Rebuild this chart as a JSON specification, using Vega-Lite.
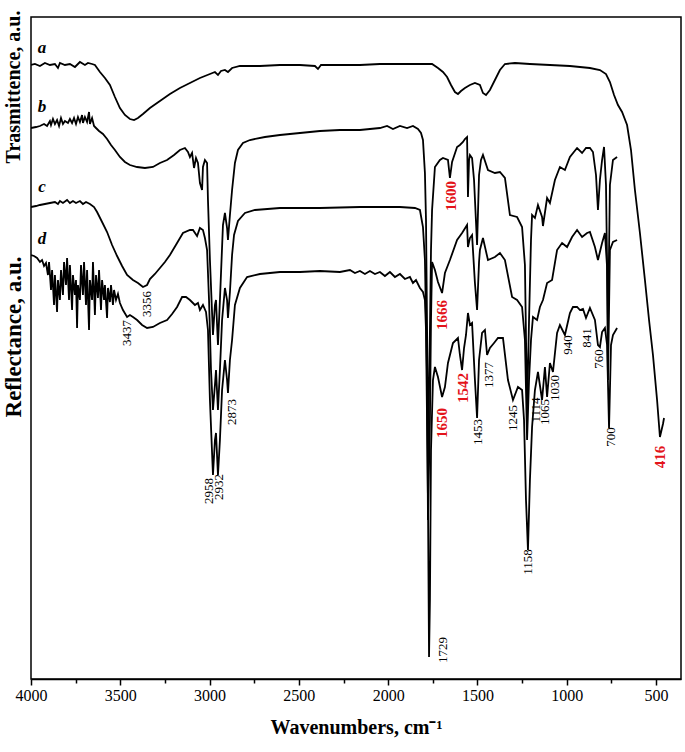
{
"$schema":"https://vega.github.io/schema/vega-lite/v6.json",
"width":650,"height":662,"autosize":"none",
"padding":{"left":31,"top":17,"right":4,"bottom":73},
"background":"white",
"config":{"view":{"stroke":"black","strokeWidth":1.5},"font":"Liberation Serif"},
"datasets":{
"spectra":[
{"curve":"a","wavenumber":4000,"intensity":614},{"curve":"a","wavenumber":3978,"intensity":615},{"curve":"a","wavenumber":3950,"intensity":613},{"curve":"a","wavenumber":3922,"intensity":616},{"curve":"a","wavenumber":3894,"intensity":614},{"curve":"a","wavenumber":3866,"intensity":615},{"curve":"a","wavenumber":3849,"intensity":611},{"curve":"a","wavenumber":3838,"intensity":616},{"curve":"a","wavenumber":3810,"intensity":614},{"curve":"a","wavenumber":3782,"intensity":615},{"curve":"a","wavenumber":3754,"intensity":612},{"curve":"a","wavenumber":3726,"intensity":617},{"curve":"a","wavenumber":3698,"intensity":614},{"curve":"a","wavenumber":3681,"intensity":616},{"curve":"a","wavenumber":3658,"intensity":615},{"curve":"a","wavenumber":3642,"intensity":614},{"curve":"a","wavenumber":3614,"intensity":607},{"curve":"a","wavenumber":3586,"intensity":601},{"curve":"a","wavenumber":3558,"intensity":594},{"curve":"a","wavenumber":3530,"intensity":582},{"curve":"a","wavenumber":3502,"intensity":571},{"curve":"a","wavenumber":3474,"intensity":564},{"curve":"a","wavenumber":3446,"intensity":560},{"curve":"a","wavenumber":3423,"intensity":559},{"curve":"a","wavenumber":3401,"intensity":561},{"curve":"a","wavenumber":3373,"intensity":565},{"curve":"a","wavenumber":3334,"intensity":571},{"curve":"a","wavenumber":3278,"intensity":578},{"curve":"a","wavenumber":3222,"intensity":585},{"curve":"a","wavenumber":3166,"intensity":591},{"curve":"a","wavenumber":3110,"intensity":596},{"curve":"a","wavenumber":3054,"intensity":601},{"curve":"a","wavenumber":2998,"intensity":605},{"curve":"a","wavenumber":2970,"intensity":607},{"curve":"a","wavenumber":2953,"intensity":604},{"curve":"a","wavenumber":2936,"intensity":608},{"curve":"a","wavenumber":2914,"intensity":609},{"curve":"a","wavenumber":2897,"intensity":607},{"curve":"a","wavenumber":2874,"intensity":611},{"curve":"a","wavenumber":2830,"intensity":613},{"curve":"a","wavenumber":2718,"intensity":613},{"curve":"a","wavenumber":2606,"intensity":614},{"curve":"a","wavenumber":2494,"intensity":614},{"curve":"a","wavenumber":2410,"intensity":613},{"curve":"a","wavenumber":2393,"intensity":610},{"curve":"a","wavenumber":2376,"intensity":614},{"curve":"a","wavenumber":2270,"intensity":614},{"curve":"a","wavenumber":2158,"intensity":614},{"curve":"a","wavenumber":2046,"intensity":615},{"curve":"a","wavenumber":1934,"intensity":615},{"curve":"a","wavenumber":1822,"intensity":615},{"curve":"a","wavenumber":1754,"intensity":615},{"curve":"a","wavenumber":1721,"intensity":611},{"curve":"a","wavenumber":1693,"intensity":607},{"curve":"a","wavenumber":1670,"intensity":602},{"curve":"a","wavenumber":1648,"intensity":594},{"curve":"a","wavenumber":1626,"intensity":587},{"curve":"a","wavenumber":1609,"intensity":585},{"curve":"a","wavenumber":1592,"intensity":588},{"curve":"a","wavenumber":1570,"intensity":591},{"curve":"a","wavenumber":1542,"intensity":594},{"curve":"a","wavenumber":1514,"intensity":596},{"curve":"a","wavenumber":1486,"intensity":594},{"curve":"a","wavenumber":1469,"intensity":586},{"curve":"a","wavenumber":1452,"intensity":584},{"curve":"a","wavenumber":1430,"intensity":589},{"curve":"a","wavenumber":1402,"intensity":599},{"curve":"a","wavenumber":1374,"intensity":609},{"curve":"a","wavenumber":1346,"intensity":615},{"curve":"a","wavenumber":1290,"intensity":616},{"curve":"a","wavenumber":1206,"intensity":615},{"curve":"a","wavenumber":1094,"intensity":614},{"curve":"a","wavenumber":982,"intensity":613},{"curve":"a","wavenumber":870,"intensity":611},{"curve":"a","wavenumber":814,"intensity":609},{"curve":"a","wavenumber":780,"intensity":605},{"curve":"a","wavenumber":758,"intensity":597},{"curve":"a","wavenumber":735,"intensity":584},{"curve":"a","wavenumber":713,"intensity":574},{"curve":"a","wavenumber":690,"intensity":567},{"curve":"a","wavenumber":662,"intensity":554},{"curve":"a","wavenumber":640,"intensity":529},{"curve":"a","wavenumber":618,"intensity":489},{"curve":"a","wavenumber":590,"intensity":446},{"curve":"a","wavenumber":562,"intensity":399},{"curve":"a","wavenumber":539,"intensity":359},{"curve":"a","wavenumber":517,"intensity":324},{"curve":"a","wavenumber":494,"intensity":279},{"curve":"a","wavenumber":478,"intensity":242},{"curve":"a","wavenumber":461,"intensity":255},{"curve":"a","wavenumber":455,"intensity":261},

{"curve":"b","wavenumber":4000,"intensity":551},{"curve":"b","wavenumber":3972,"intensity":552},{"curve":"b","wavenumber":3950,"intensity":553},{"curve":"b","wavenumber":3927,"intensity":555},{"curve":"b","wavenumber":3910,"intensity":553},{"curve":"b","wavenumber":3894,"intensity":558},{"curve":"b","wavenumber":3888,"intensity":554},{"curve":"b","wavenumber":3877,"intensity":560},{"curve":"b","wavenumber":3866,"intensity":555},{"curve":"b","wavenumber":3854,"intensity":559},{"curve":"b","wavenumber":3843,"intensity":553},{"curve":"b","wavenumber":3832,"intensity":561},{"curve":"b","wavenumber":3821,"intensity":555},{"curve":"b","wavenumber":3810,"intensity":558},{"curve":"b","wavenumber":3793,"intensity":556},{"curve":"b","wavenumber":3782,"intensity":560},{"curve":"b","wavenumber":3770,"intensity":556},{"curve":"b","wavenumber":3759,"intensity":561},{"curve":"b","wavenumber":3748,"intensity":555},{"curve":"b","wavenumber":3737,"intensity":562},{"curve":"b","wavenumber":3726,"intensity":557},{"curve":"b","wavenumber":3714,"intensity":564},{"curve":"b","wavenumber":3709,"intensity":556},{"curve":"b","wavenumber":3698,"intensity":562},{"curve":"b","wavenumber":3686,"intensity":557},{"curve":"b","wavenumber":3675,"intensity":567},{"curve":"b","wavenumber":3670,"intensity":555},{"curve":"b","wavenumber":3658,"intensity":561},{"curve":"b","wavenumber":3647,"intensity":553},{"curve":"b","wavenumber":3636,"intensity":551},{"curve":"b","wavenumber":3619,"intensity":548},{"curve":"b","wavenumber":3597,"intensity":545},{"curve":"b","wavenumber":3574,"intensity":540},{"curve":"b","wavenumber":3552,"intensity":534},{"curve":"b","wavenumber":3530,"intensity":529},{"curve":"b","wavenumber":3502,"intensity":522},{"curve":"b","wavenumber":3474,"intensity":517},{"curve":"b","wavenumber":3446,"intensity":514},{"curve":"b","wavenumber":3406,"intensity":512},{"curve":"b","wavenumber":3362,"intensity":511},{"curve":"b","wavenumber":3317,"intensity":512},{"curve":"b","wavenumber":3278,"intensity":516},{"curve":"b","wavenumber":3238,"intensity":519},{"curve":"b","wavenumber":3199,"intensity":524},{"curve":"b","wavenumber":3166,"intensity":529},{"curve":"b","wavenumber":3138,"intensity":531},{"curve":"b","wavenumber":3121,"intensity":527},{"curve":"b","wavenumber":3110,"intensity":522},{"curve":"b","wavenumber":3098,"intensity":526},{"curve":"b","wavenumber":3087,"intensity":511},{"curve":"b","wavenumber":3076,"intensity":521},{"curve":"b","wavenumber":3065,"intensity":516},{"curve":"b","wavenumber":3054,"intensity":496},{"curve":"b","wavenumber":3042,"intensity":489},{"curve":"b","wavenumber":3037,"intensity":512},{"curve":"b","wavenumber":3026,"intensity":519},{"curve":"b","wavenumber":3014,"intensity":516},{"curve":"b","wavenumber":3009,"intensity":479},{"curve":"b","wavenumber":2998,"intensity":419},{"curve":"b","wavenumber":2981,"intensity":344},{"curve":"b","wavenumber":2970,"intensity":374},{"curve":"b","wavenumber":2964,"intensity":379},{"curve":"b","wavenumber":2953,"intensity":334},{"curve":"b","wavenumber":2942,"intensity":379},{"curve":"b","wavenumber":2925,"intensity":454},{"curve":"b","wavenumber":2914,"intensity":466},{"curve":"b","wavenumber":2902,"intensity":451},{"curve":"b","wavenumber":2897,"intensity":439},{"curve":"b","wavenumber":2886,"intensity":464},{"curve":"b","wavenumber":2874,"intensity":489},{"curve":"b","wavenumber":2858,"intensity":516},{"curve":"b","wavenumber":2841,"intensity":529},{"curve":"b","wavenumber":2813,"intensity":536},{"curve":"b","wavenumber":2774,"intensity":539},{"curve":"b","wavenumber":2690,"intensity":542},{"curve":"b","wavenumber":2606,"intensity":544},{"curve":"b","wavenumber":2494,"intensity":546},{"curve":"b","wavenumber":2382,"intensity":548},{"curve":"b","wavenumber":2270,"intensity":549},{"curve":"b","wavenumber":2158,"intensity":549},{"curve":"b","wavenumber":2046,"intensity":551},{"curve":"b","wavenumber":2006,"intensity":553},{"curve":"b","wavenumber":1973,"intensity":550},{"curve":"b","wavenumber":1934,"intensity":553},{"curve":"b","wavenumber":1894,"intensity":551},{"curve":"b","wavenumber":1861,"intensity":553},{"curve":"b","wavenumber":1833,"intensity":550},{"curve":"b","wavenumber":1816,"intensity":546},{"curve":"b","wavenumber":1805,"intensity":539},{"curve":"b","wavenumber":1794,"intensity":506},{"curve":"b","wavenumber":1788,"intensity":459},{"curve":"b","wavenumber":1782,"intensity":349},{"curve":"b","wavenumber":1777,"intensity":219},{"curve":"b","wavenumber":1766,"intensity":349},{"curve":"b","wavenumber":1760,"intensity":429},{"curve":"b","wavenumber":1754,"intensity":469},{"curve":"b","wavenumber":1738,"intensity":512},{"curve":"b","wavenumber":1710,"intensity":519},{"curve":"b","wavenumber":1693,"intensity":521},{"curve":"b","wavenumber":1665,"intensity":519},{"curve":"b","wavenumber":1654,"intensity":501},{"curve":"b","wavenumber":1642,"intensity":517},{"curve":"b","wavenumber":1614,"intensity":532},{"curve":"b","wavenumber":1598,"intensity":534},{"curve":"b","wavenumber":1581,"intensity":537},{"curve":"b","wavenumber":1570,"intensity":540},{"curve":"b","wavenumber":1558,"intensity":542},{"curve":"b","wavenumber":1553,"intensity":482},{"curve":"b","wavenumber":1547,"intensity":519},{"curve":"b","wavenumber":1542,"intensity":524},{"curve":"b","wavenumber":1530,"intensity":521},{"curve":"b","wavenumber":1519,"intensity":499},{"curve":"b","wavenumber":1502,"intensity":434},{"curve":"b","wavenumber":1491,"intensity":504},{"curve":"b","wavenumber":1480,"intensity":519},{"curve":"b","wavenumber":1469,"intensity":524},{"curve":"b","wavenumber":1441,"intensity":509},{"curve":"b","wavenumber":1402,"intensity":506},{"curve":"b","wavenumber":1374,"intensity":507},{"curve":"b","wavenumber":1346,"intensity":501},{"curve":"b","wavenumber":1318,"intensity":464},{"curve":"b","wavenumber":1278,"intensity":462},{"curve":"b","wavenumber":1250,"intensity":452},{"curve":"b","wavenumber":1234,"intensity":414},{"curve":"b","wavenumber":1222,"intensity":269},{"curve":"b","wavenumber":1211,"intensity":359},{"curve":"b","wavenumber":1200,"intensity":439},{"curve":"b","wavenumber":1194,"intensity":464},{"curve":"b","wavenumber":1178,"intensity":461},{"curve":"b","wavenumber":1161,"intensity":474},{"curve":"b","wavenumber":1138,"intensity":462},{"curve":"b","wavenumber":1133,"intensity":453},{"curve":"b","wavenumber":1110,"intensity":481},{"curve":"b","wavenumber":1094,"intensity":476},{"curve":"b","wavenumber":1066,"intensity":499},{"curve":"b","wavenumber":1038,"intensity":512},{"curve":"b","wavenumber":1010,"intensity":509},{"curve":"b","wavenumber":982,"intensity":522},{"curve":"b","wavenumber":942,"intensity":531},{"curve":"b","wavenumber":914,"intensity":526},{"curve":"b","wavenumber":892,"intensity":531},{"curve":"b","wavenumber":870,"intensity":531},{"curve":"b","wavenumber":853,"intensity":527},{"curve":"b","wavenumber":836,"intensity":504},{"curve":"b","wavenumber":825,"intensity":469},{"curve":"b","wavenumber":814,"intensity":499},{"curve":"b","wavenumber":802,"intensity":519},{"curve":"b","wavenumber":791,"intensity":532},{"curve":"b","wavenumber":780,"intensity":494},{"curve":"b","wavenumber":769,"intensity":349},{"curve":"b","wavenumber":758,"intensity":494},{"curve":"b","wavenumber":741,"intensity":519},{"curve":"b","wavenumber":718,"intensity":522},

{"curve":"c","wavenumber":4000,"intensity":472},{"curve":"c","wavenumber":3972,"intensity":473},{"curve":"c","wavenumber":3950,"intensity":474},{"curve":"c","wavenumber":3922,"intensity":475},{"curve":"c","wavenumber":3894,"intensity":476},{"curve":"c","wavenumber":3866,"intensity":477},{"curve":"c","wavenumber":3849,"intensity":475},{"curve":"c","wavenumber":3838,"intensity":478},{"curve":"c","wavenumber":3821,"intensity":476},{"curve":"c","wavenumber":3798,"intensity":479},{"curve":"c","wavenumber":3782,"intensity":476},{"curve":"c","wavenumber":3765,"intensity":478},{"curve":"c","wavenumber":3748,"intensity":476},{"curve":"c","wavenumber":3726,"intensity":478},{"curve":"c","wavenumber":3709,"intensity":475},{"curve":"c","wavenumber":3692,"intensity":477},{"curve":"c","wavenumber":3670,"intensity":475},{"curve":"c","wavenumber":3647,"intensity":472},{"curve":"c","wavenumber":3630,"intensity":467},{"curve":"c","wavenumber":3602,"intensity":457},{"curve":"c","wavenumber":3574,"intensity":447},{"curve":"c","wavenumber":3546,"intensity":434},{"curve":"c","wavenumber":3518,"intensity":423},{"curve":"c","wavenumber":3490,"intensity":413},{"curve":"c","wavenumber":3462,"intensity":404},{"curve":"c","wavenumber":3429,"intensity":399},{"curve":"c","wavenumber":3401,"intensity":396},{"curve":"c","wavenumber":3373,"intensity":392},{"curve":"c","wavenumber":3350,"intensity":394},{"curve":"c","wavenumber":3334,"intensity":400},{"curve":"c","wavenumber":3306,"intensity":405},{"curve":"c","wavenumber":3278,"intensity":411},{"curve":"c","wavenumber":3250,"intensity":417},{"curve":"c","wavenumber":3222,"intensity":424},{"curve":"c","wavenumber":3182,"intensity":436},{"curve":"c","wavenumber":3149,"intensity":446},{"curve":"c","wavenumber":3110,"intensity":449},{"curve":"c","wavenumber":3093,"intensity":449},{"curve":"c","wavenumber":3070,"intensity":443},{"curve":"c","wavenumber":3054,"intensity":451},{"curve":"c","wavenumber":3037,"intensity":449},{"curve":"c","wavenumber":3026,"intensity":441},{"curve":"c","wavenumber":3014,"intensity":429},{"curve":"c","wavenumber":3003,"intensity":379},{"curve":"c","wavenumber":2992,"intensity":309},{"curve":"c","wavenumber":2981,"intensity":269},{"curve":"c","wavenumber":2970,"intensity":294},{"curve":"c","wavenumber":2964,"intensity":309},{"curve":"c","wavenumber":2953,"intensity":269},{"curve":"c","wavenumber":2942,"intensity":309},{"curve":"c","wavenumber":2930,"intensity":359},{"curve":"c","wavenumber":2914,"intensity":391},{"curve":"c","wavenumber":2902,"intensity":379},{"curve":"c","wavenumber":2897,"intensity":361},{"curve":"c","wavenumber":2886,"intensity":387},{"curve":"c","wavenumber":2874,"intensity":424},{"curve":"c","wavenumber":2863,"intensity":444},{"curve":"c","wavenumber":2841,"intensity":458},{"curve":"c","wavenumber":2802,"intensity":466},{"curve":"c","wavenumber":2746,"intensity":469},{"curve":"c","wavenumber":2606,"intensity":471},{"curve":"c","wavenumber":2382,"intensity":471},{"curve":"c","wavenumber":2158,"intensity":472},{"curve":"c","wavenumber":1934,"intensity":472},{"curve":"c","wavenumber":1850,"intensity":471},{"curve":"c","wavenumber":1822,"intensity":469},{"curve":"c","wavenumber":1805,"intensity":452},{"curve":"c","wavenumber":1794,"intensity":419},{"curve":"c","wavenumber":1782,"intensity":299},{"curve":"c","wavenumber":1777,"intensity":159},{"curve":"c","wavenumber":1766,"intensity":259},{"curve":"c","wavenumber":1760,"intensity":359},{"curve":"c","wavenumber":1754,"intensity":417},{"curve":"c","wavenumber":1738,"intensity":409},{"curve":"c","wavenumber":1721,"intensity":397},{"curve":"c","wavenumber":1698,"intensity":386},{"curve":"c","wavenumber":1682,"intensity":406},{"curve":"c","wavenumber":1654,"intensity":419},{"curve":"c","wavenumber":1614,"intensity":439},{"curve":"c","wavenumber":1586,"intensity":446},{"curve":"c","wavenumber":1558,"intensity":454},{"curve":"c","wavenumber":1553,"intensity":432},{"curve":"c","wavenumber":1542,"intensity":441},{"curve":"c","wavenumber":1530,"intensity":444},{"curve":"c","wavenumber":1514,"intensity":396},{"curve":"c","wavenumber":1502,"intensity":369},{"curve":"c","wavenumber":1491,"intensity":417},{"curve":"c","wavenumber":1486,"intensity":429},{"curve":"c","wavenumber":1469,"intensity":441},{"curve":"c","wavenumber":1441,"intensity":419},{"curve":"c","wavenumber":1402,"intensity":422},{"curve":"c","wavenumber":1374,"intensity":426},{"curve":"c","wavenumber":1346,"intensity":419},{"curve":"c","wavenumber":1306,"intensity":382},{"curve":"c","wavenumber":1278,"intensity":379},{"curve":"c","wavenumber":1250,"intensity":372},{"curve":"c","wavenumber":1234,"intensity":339},{"curve":"c","wavenumber":1222,"intensity":239},{"curve":"c","wavenumber":1211,"intensity":299},{"curve":"c","wavenumber":1200,"intensity":339},{"curve":"c","wavenumber":1189,"intensity":362},{"curve":"c","wavenumber":1166,"intensity":359},{"curve":"c","wavenumber":1150,"intensity":372},{"curve":"c","wavenumber":1133,"intensity":379},{"curve":"c","wavenumber":1110,"intensity":396},{"curve":"c","wavenumber":1082,"intensity":399},{"curve":"c","wavenumber":1054,"intensity":429},{"curve":"c","wavenumber":1026,"intensity":436},{"curve":"c","wavenumber":998,"intensity":432},{"curve":"c","wavenumber":970,"intensity":442},{"curve":"c","wavenumber":942,"intensity":449},{"curve":"c","wavenumber":914,"intensity":442},{"curve":"c","wavenumber":886,"intensity":446},{"curve":"c","wavenumber":870,"intensity":447},{"curve":"c","wavenumber":842,"intensity":432},{"curve":"c","wavenumber":825,"intensity":419},{"curve":"c","wavenumber":802,"intensity":436},{"curve":"c","wavenumber":786,"intensity":446},{"curve":"c","wavenumber":774,"intensity":412},{"curve":"c","wavenumber":769,"intensity":299},{"curve":"c","wavenumber":758,"intensity":429},{"curve":"c","wavenumber":741,"intensity":437},{"curve":"c","wavenumber":718,"intensity":439},

{"curve":"d","wavenumber":4000,"intensity":424},{"curve":"d","wavenumber":3983,"intensity":423},{"curve":"d","wavenumber":3966,"intensity":421},{"curve":"d","wavenumber":3950,"intensity":417},{"curve":"d","wavenumber":3938,"intensity":419},{"curve":"d","wavenumber":3927,"intensity":413},{"curve":"d","wavenumber":3916,"intensity":416},{"curve":"d","wavenumber":3905,"intensity":404},{"curve":"d","wavenumber":3899,"intensity":417},{"curve":"d","wavenumber":3888,"intensity":389},{"curve":"d","wavenumber":3882,"intensity":409},{"curve":"d","wavenumber":3871,"intensity":374},{"curve":"d","wavenumber":3866,"intensity":404},{"curve":"d","wavenumber":3854,"intensity":367},{"curve":"d","wavenumber":3849,"intensity":399},{"curve":"d","wavenumber":3838,"intensity":379},{"curve":"d","wavenumber":3832,"intensity":409},{"curve":"d","wavenumber":3821,"intensity":384},{"curve":"d","wavenumber":3815,"intensity":417},{"curve":"d","wavenumber":3804,"intensity":394},{"curve":"d","wavenumber":3798,"intensity":421},{"curve":"d","wavenumber":3787,"intensity":379},{"curve":"d","wavenumber":3782,"intensity":414},{"curve":"d","wavenumber":3770,"intensity":369},{"curve":"d","wavenumber":3765,"intensity":404},{"curve":"d","wavenumber":3754,"intensity":384},{"curve":"d","wavenumber":3748,"intensity":399},{"curve":"d","wavenumber":3742,"intensity":351},{"curve":"d","wavenumber":3737,"intensity":394},{"curve":"d","wavenumber":3726,"intensity":379},{"curve":"d","wavenumber":3720,"intensity":414},{"curve":"d","wavenumber":3709,"intensity":384},{"curve":"d","wavenumber":3703,"intensity":417},{"curve":"d","wavenumber":3692,"intensity":374},{"curve":"d","wavenumber":3686,"intensity":409},{"curve":"d","wavenumber":3675,"intensity":349},{"curve":"d","wavenumber":3670,"intensity":399},{"curve":"d","wavenumber":3658,"intensity":379},{"curve":"d","wavenumber":3653,"intensity":417},{"curve":"d","wavenumber":3642,"intensity":364},{"curve":"d","wavenumber":3636,"intensity":404},{"curve":"d","wavenumber":3625,"intensity":381},{"curve":"d","wavenumber":3619,"intensity":409},{"curve":"d","wavenumber":3608,"intensity":369},{"curve":"d","wavenumber":3602,"intensity":399},{"curve":"d","wavenumber":3591,"intensity":379},{"curve":"d","wavenumber":3586,"intensity":394},{"curve":"d","wavenumber":3574,"intensity":361},{"curve":"d","wavenumber":3569,"intensity":391},{"curve":"d","wavenumber":3558,"intensity":377},{"curve":"d","wavenumber":3552,"intensity":394},{"curve":"d","wavenumber":3541,"intensity":374},{"curve":"d","wavenumber":3535,"intensity":389},{"curve":"d","wavenumber":3524,"intensity":379},{"curve":"d","wavenumber":3513,"intensity":385},{"curve":"d","wavenumber":3502,"intensity":376},{"curve":"d","wavenumber":3485,"intensity":369},{"curve":"d","wavenumber":3462,"intensity":362},{"curve":"d","wavenumber":3446,"intensity":364},{"curve":"d","wavenumber":3429,"intensity":362},{"curve":"d","wavenumber":3406,"intensity":359},{"curve":"d","wavenumber":3378,"intensity":354},{"curve":"d","wavenumber":3350,"intensity":351},{"curve":"d","wavenumber":3317,"intensity":352},{"curve":"d","wavenumber":3278,"intensity":356},{"curve":"d","wavenumber":3238,"intensity":359},{"curve":"d","wavenumber":3210,"intensity":365},{"curve":"d","wavenumber":3182,"intensity":372},{"curve":"d","wavenumber":3154,"intensity":382},{"curve":"d","wavenumber":3132,"intensity":382},{"curve":"d","wavenumber":3110,"intensity":379},{"curve":"d","wavenumber":3082,"intensity":374},{"curve":"d","wavenumber":3065,"intensity":376},{"curve":"d","wavenumber":3054,"intensity":369},{"curve":"d","wavenumber":3037,"intensity":374},{"curve":"d","wavenumber":3020,"intensity":367},{"curve":"d","wavenumber":3009,"intensity":349},{"curve":"d","wavenumber":2998,"intensity":279},{"curve":"d","wavenumber":2981,"intensity":204},{"curve":"d","wavenumber":2970,"intensity":239},{"curve":"d","wavenumber":2964,"intensity":246},{"curve":"d","wavenumber":2953,"intensity":204},{"curve":"d","wavenumber":2942,"intensity":239},{"curve":"d","wavenumber":2930,"intensity":289},{"curve":"d","wavenumber":2914,"intensity":319},{"curve":"d","wavenumber":2902,"intensity":299},{"curve":"d","wavenumber":2897,"intensity":286},{"curve":"d","wavenumber":2886,"intensity":319},{"curve":"d","wavenumber":2874,"intensity":339},{"curve":"d","wavenumber":2858,"intensity":374},{"curve":"d","wavenumber":2830,"intensity":391},{"curve":"d","wavenumber":2790,"intensity":402},{"curve":"d","wavenumber":2718,"intensity":405},{"curve":"d","wavenumber":2606,"intensity":407},{"curve":"d","wavenumber":2494,"intensity":407},{"curve":"d","wavenumber":2382,"intensity":408},{"curve":"d","wavenumber":2270,"intensity":407},{"curve":"d","wavenumber":2214,"intensity":409},{"curve":"d","wavenumber":2186,"intensity":406},{"curve":"d","wavenumber":2158,"intensity":408},{"curve":"d","wavenumber":2130,"intensity":405},{"curve":"d","wavenumber":2102,"intensity":408},{"curve":"d","wavenumber":2074,"intensity":405},{"curve":"d","wavenumber":2046,"intensity":407},{"curve":"d","wavenumber":2018,"intensity":403},{"curve":"d","wavenumber":1990,"intensity":407},{"curve":"d","wavenumber":1962,"intensity":402},{"curve":"d","wavenumber":1934,"intensity":405},{"curve":"d","wavenumber":1906,"intensity":400},{"curve":"d","wavenumber":1878,"intensity":402},{"curve":"d","wavenumber":1861,"intensity":396},{"curve":"d","wavenumber":1844,"intensity":399},{"curve":"d","wavenumber":1822,"intensity":391},{"curve":"d","wavenumber":1805,"intensity":387},{"curve":"d","wavenumber":1794,"intensity":379},{"curve":"d","wavenumber":1788,"intensity":349},{"curve":"d","wavenumber":1777,"intensity":179},{"curve":"d","wavenumber":1771,"intensity":22},{"curve":"d","wavenumber":1766,"intensity":79},{"curve":"d","wavenumber":1760,"intensity":229},{"curve":"d","wavenumber":1749,"intensity":299},{"curve":"d","wavenumber":1738,"intensity":312},{"curve":"d","wavenumber":1721,"intensity":302},{"curve":"d","wavenumber":1698,"intensity":282},{"curve":"d","wavenumber":1682,"intensity":292},{"curve":"d","wavenumber":1665,"intensity":316},{"curve":"d","wavenumber":1637,"intensity":336},{"curve":"d","wavenumber":1609,"intensity":341},{"curve":"d","wavenumber":1598,"intensity":324},{"curve":"d","wavenumber":1586,"intensity":309},{"curve":"d","wavenumber":1575,"intensity":331},{"curve":"d","wavenumber":1564,"intensity":344},{"curve":"d","wavenumber":1553,"intensity":366},{"curve":"d","wavenumber":1542,"intensity":354},{"curve":"d","wavenumber":1530,"intensity":356},{"curve":"d","wavenumber":1514,"intensity":299},{"curve":"d","wavenumber":1502,"intensity":261},{"curve":"d","wavenumber":1491,"intensity":319},{"curve":"d","wavenumber":1474,"intensity":346},{"curve":"d","wavenumber":1458,"intensity":349},{"curve":"d","wavenumber":1446,"intensity":324},{"curve":"d","wavenumber":1430,"intensity":331},{"curve":"d","wavenumber":1407,"intensity":336},{"curve":"d","wavenumber":1385,"intensity":341},{"curve":"d","wavenumber":1357,"intensity":341},{"curve":"d","wavenumber":1329,"intensity":299},{"curve":"d","wavenumber":1301,"intensity":279},{"curve":"d","wavenumber":1273,"intensity":292},{"curve":"d","wavenumber":1250,"intensity":289},{"curve":"d","wavenumber":1239,"intensity":259},{"curve":"d","wavenumber":1228,"intensity":179},{"curve":"d","wavenumber":1217,"intensity":129},{"curve":"d","wavenumber":1206,"intensity":199},{"curve":"d","wavenumber":1194,"intensity":252},{"curve":"d","wavenumber":1178,"intensity":289},{"curve":"d","wavenumber":1161,"intensity":307},{"curve":"d","wavenumber":1138,"intensity":279},{"curve":"d","wavenumber":1122,"intensity":312},{"curve":"d","wavenumber":1110,"intensity":282},{"curve":"d","wavenumber":1094,"intensity":316},{"curve":"d","wavenumber":1077,"intensity":307},{"curve":"d","wavenumber":1054,"intensity":346},{"curve":"d","wavenumber":1038,"intensity":354},{"curve":"d","wavenumber":1010,"intensity":344},{"curve":"d","wavenumber":982,"intensity":366},{"curve":"d","wavenumber":965,"intensity":372},{"curve":"d","wavenumber":942,"intensity":372},{"curve":"d","wavenumber":926,"intensity":369},{"curve":"d","wavenumber":909,"intensity":370},{"curve":"d","wavenumber":892,"intensity":361},{"curve":"d","wavenumber":870,"intensity":371},{"curve":"d","wavenumber":842,"intensity":359},{"curve":"d","wavenumber":825,"intensity":334},{"curve":"d","wavenumber":814,"intensity":332},{"curve":"d","wavenumber":802,"intensity":347},{"curve":"d","wavenumber":786,"intensity":351},{"curve":"d","wavenumber":774,"intensity":334},{"curve":"d","wavenumber":763,"intensity":251},{"curve":"d","wavenumber":752,"intensity":334},{"curve":"d","wavenumber":741,"intensity":344},{"curve":"d","wavenumber":718,"intensity":351}
],
"bands":[
{"text":"3437","kind":"band","wavenumber":3462,"intensity":346},
{"text":"3356","kind":"band","wavenumber":3350,"intensity":375},
{"text":"2873","kind":"band","wavenumber":2874,"intensity":267},
{"text":"2958","kind":"band","wavenumber":3003,"intensity":188},
{"text":"2932","kind":"band","wavenumber":2947,"intensity":192},
{"text":"1729","kind":"band","wavenumber":1693,"intensity":29},
{"text":"1453","kind":"band","wavenumber":1497,"intensity":247},
{"text":"1377","kind":"band","wavenumber":1435,"intensity":304},
{"text":"1245","kind":"band","wavenumber":1301,"intensity":261},
{"text":"1158","kind":"band","wavenumber":1217,"intensity":117},
{"text":"1114","kind":"band","wavenumber":1172,"intensity":269},
{"text":"1065","kind":"band","wavenumber":1122,"intensity":267},
{"text":"1030","kind":"band","wavenumber":1066,"intensity":291},
{"text":"940","kind":"band","wavenumber":993,"intensity":334},
{"text":"841","kind":"band","wavenumber":886,"intensity":341},
{"text":"760","kind":"band","wavenumber":819,"intensity":320},
{"text":"700","kind":"band","wavenumber":752,"intensity":242},
{"text":"1650","kind":"new","wavenumber":1698,"intensity":256},
{"text":"1666","kind":"new","wavenumber":1698,"intensity":364},
{"text":"1600","kind":"new","wavenumber":1648,"intensity":483},
{"text":"1542","kind":"new","wavenumber":1581,"intensity":291},
{"text":"416","kind":"new","wavenumber":478,"intensity":222}
],
"tags":[
{"text":"a","wavenumber":3939,"intensity":631},
{"text":"b","wavenumber":3939,"intensity":572},
{"text":"c","wavenumber":3939,"intensity":492},
{"text":"d","wavenumber":3939,"intensity":440}
],
"ytitles":[
{"text":"Trasmittence, a.u.","part":"top","wavenumber":4095,"intensity":592},
{"text":"Reflectance, a.u.","part":"bottom","wavenumber":4095,"intensity":342}
]
},
"encoding":{
"x":{"field":"wavenumber","type":"quantitative","scale":{"domain":[360,4000],"reverse":true,"nice":false,"zero":false},
"axis":{"values":[4000,3750,3500,3250,3000,2750,2500,2250,2000,1750,1500,1250,1000,750,500],"format":"d",
"labelExpr":"datum.value % 500 === 0 ? datum.label : ''","labelFlush":false,"labelOverlap":false,
"tickSize":{"condition":{"test":"datum.value % 500 === 0","value":6},"value":4},
"tickColor":"black","tickWidth":1.5,"domainColor":"black","domainWidth":1.5,"grid":false,
"labelFont":"Liberation Serif","labelFontSize":16,"labelColor":"black","labelPadding":2,
"title":"Wavenumbers, cm⁻¹","titleFont":"Liberation Serif","titleFontSize":20,"titleFontWeight":"bold","titleColor":"black","titlePadding":14}},
"y":{"field":"intensity","type":"quantitative","scale":{"domain":[0,662],"nice":false,"zero":false},"axis":null}
},
"layer":[
{"data":{"name":"spectra"},"mark":{"type":"line","color":"black","strokeWidth":1.8,"clip":true},"encoding":{"detail":{"field":"curve","type":"nominal"}}},
{"data":{"name":"bands"},"transform":[{"filter":"datum.kind === 'band'"}],"mark":{"type":"text","angle":270,"align":"center","baseline":"middle","font":"Liberation Serif","fontSize":13,"color":"black"},"encoding":{"text":{"field":"text"}}},
{"data":{"name":"bands"},"transform":[{"filter":"datum.kind === 'new'"}],"mark":{"type":"text","angle":270,"align":"center","baseline":"middle","font":"Liberation Serif","fontSize":15,"fontWeight":"bold","color":"#e3141b"},"encoding":{"text":{"field":"text"}}},
{"data":{"name":"tags"},"mark":{"type":"text","align":"center","baseline":"middle","font":"Liberation Serif","fontSize":17,"fontWeight":"bold","fontStyle":"italic","color":"black"},"encoding":{"text":{"field":"text"}}},
{"data":{"name":"ytitles"},"transform":[{"filter":"datum.part === 'top'"}],"mark":{"type":"text","angle":270,"align":"center","baseline":"middle","font":"Liberation Serif","fontSize":20,"fontWeight":"bold","color":"black"},"encoding":{"text":{"field":"text"}}},
{"data":{"name":"ytitles"},"transform":[{"filter":"datum.part === 'bottom'"}],"mark":{"type":"text","angle":270,"align":"center","baseline":"middle","font":"Liberation Serif","fontSize":23,"fontWeight":"bold","color":"black"},"encoding":{"text":{"field":"text"}}}
]
}
